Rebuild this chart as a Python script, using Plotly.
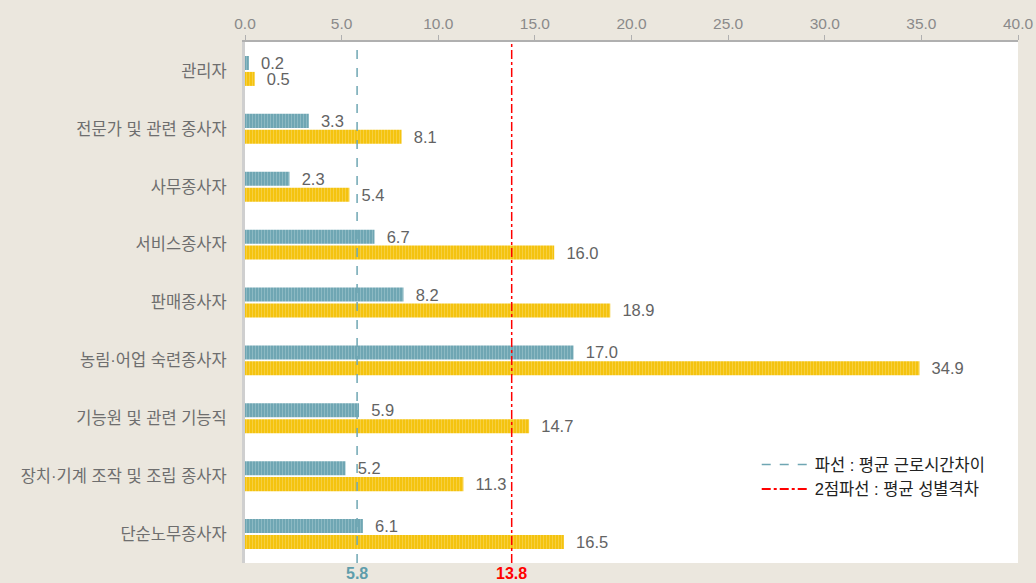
import plotly.graph_objects as go

categories = ["관리자", "전문가 및 관련 종사자", "사무종사자", "서비스종사자", "판매종사자",
              "농림·어업 숙련종사자", "기능원 및 관련 기능직", "장치·기계 조작 및 조립 종사자", "단순노무종사자"]
hours_gap = [0.2, 3.3, 2.3, 6.7, 8.2, 17.0, 5.9, 5.2, 6.1]
gender_gap = [0.5, 8.1, 5.4, 16.0, 18.9, 34.9, 14.7, 11.3, 16.5]
avg_hours_gap = 5.8
avg_gender_gap = 13.8
x_ticks = [0, 5, 10, 15, 20, 25, 30, 35, 40]

FONT = "Liberation Sans, Noto Sans CJK KR, sans-serif"
TEAL = "#6fa6b3"
YELLOW = "#f4c30f"
RED = "#ff0000"
BG = "#ebe7de"

fig = go.Figure()
fig.add_trace(go.Bar(
    y=categories, x=hours_gap, orientation="h", name="근로시간차이",
    marker=dict(color=TEAL, line=dict(width=0),
                pattern=dict(shape="|", fgcolor="#a9cbd3", size=3, solidity=0.35)),
    text=[f"{v:.1f}" for v in hours_gap], textposition="outside",
    texttemplate="  %{text}", constraintext="none",
    textfont=dict(color="#636363", size=16.5, family=FONT),
    cliponaxis=False, showlegend=False,
))
fig.add_trace(go.Bar(
    y=categories, x=gender_gap, orientation="h", name="성별격차",
    marker=dict(color=YELLOW, line=dict(width=0),
                pattern=dict(shape="|", fgcolor="#f9dc72", size=3, solidity=0.35)),
    text=[f"{v:.1f}" for v in gender_gap], textposition="outside",
    texttemplate="  %{text}", constraintext="none",
    textfont=dict(color="#636363", size=16.5, family=FONT),
    cliponaxis=False, showlegend=False,
))

# reference lines
fig.add_shape(type="line", xref="x", yref="paper", x0=avg_hours_gap, x1=avg_hours_gap, y0=0, y1=1,
              line=dict(color=TEAL, width=1.5, dash="dash"))
fig.add_shape(type="line", xref="x", yref="paper", x0=avg_gender_gap, x1=avg_gender_gap, y0=0, y1=1,
              line=dict(color=RED, width=1.5, dash="dashdot"))

# legend entries
fig.add_trace(go.Scatter(x=[None], y=[None], mode="lines", name="파선 : 평균 근로시간차이",
                         line=dict(color=TEAL, width=1.5, dash="dash")))
fig.add_trace(go.Scatter(x=[None], y=[None], mode="lines", name="2점파선 : 평균 성별격차",
                         line=dict(color=RED, width=2, dash="dashdot")))

fig.add_annotation(x=avg_hours_gap, xref="x", y=0, yref="paper", yanchor="top", yshift=0,
                   text="<b>5.8</b>", showarrow=False, font=dict(color="#5f9dab", size=16, family=FONT))
fig.add_annotation(x=avg_gender_gap, xref="x", y=0, yref="paper", yanchor="top", yshift=0,
                   text="<b>13.8</b>", showarrow=False, font=dict(color=RED, size=16, family=FONT))

fig.update_layout(
    width=1036, height=583,
    margin=dict(l=245, r=18, t=42, b=20),
    paper_bgcolor=BG, plot_bgcolor="#ffffff",
    barmode="group", bargap=0.45, bargroupgap=0.12,
    font=dict(family=FONT, color="#595959", size=15),
    legend=dict(x=0.662, y=0.222, xanchor="left", yanchor="top",
                bgcolor="rgba(0,0,0,0)", font=dict(color="#222222", size=16.5, family=FONT),
                tracegroupgap=0, itemwidth=48),
    xaxis=dict(side="top", range=[0, 40], tickvals=x_ticks, automargin=False,
               ticktext=[f"{v:.1f}" for v in x_ticks],
               showgrid=False, zeroline=False, showline=True, linecolor="#b0b0b0", linewidth=2,
               ticks="outside", ticklen=5, tickcolor="#b0b0b0", tickwidth=1,
               tickfont=dict(color="#8a8a8a", size=15.5, family=FONT)),
    yaxis=dict(autorange="reversed", showgrid=False, zeroline=False, automargin=False,
               showline=True, linecolor="#cfcfcf", linewidth=3, ticks="outside", ticklen=12,
               tickcolor="rgba(0,0,0,0)",
               tickfont=dict(color="#6e6e6e", size=16.5, family=FONT)),
)

fig.write_html(
    "out.html",
    config={"displayModeBar": False},
    post_script="document.body.style.margin='0';document.body.style.overflow='hidden';"
                "document.body.style.background='" + BG + "';",
)
